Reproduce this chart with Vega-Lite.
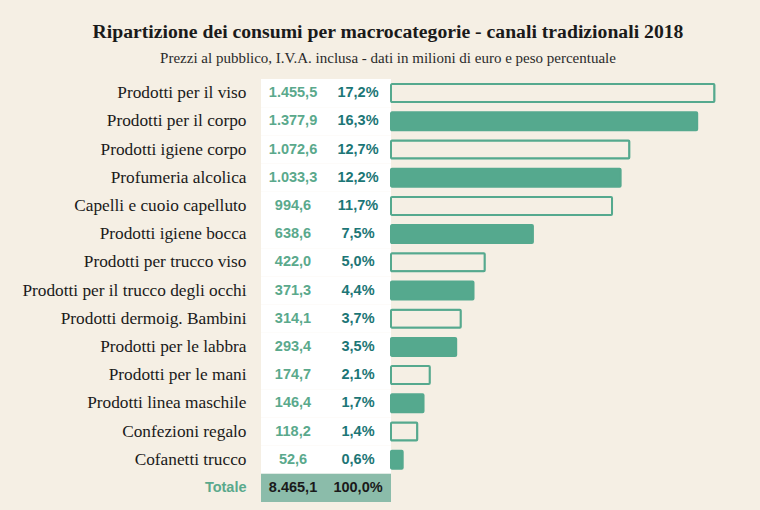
{
  "$schema": "https://vega.github.io/schema/vega-lite/v6.json",
  "width": 470,
  "height": 423,
  "autosize": {"type": "none"},
  "padding": {"left": 261, "top": 79, "right": 29, "bottom": 8},
  "background": "#f5efe4",
  "config": {
    "view": {"stroke": null},
    "locale": {"number": {"decimal": ",", "thousands": ".", "grouping": [3], "currency": ["€", ""]}}
  },
  "title": {
    "text": "Ripartizione dei consumi per macrocategorie - canali tradizionali 2018",
    "subtitle": "Prezzi al pubblico, I.V.A. inclusa - dati in milioni di euro e peso percentuale",
    "anchor": "middle",
    "frame": "group",
    "dx": -108,
    "offset": 13,
    "font": "Liberation Serif",
    "fontSize": 19.7,
    "fontWeight": "bold",
    "color": "#1a1a1a",
    "subtitleFont": "Liberation Serif",
    "subtitleFontSize": 15,
    "subtitleColor": "#2a2a2a",
    "subtitlePadding": 9
  },
  "data": {
    "values": [
      {"cat": "Prodotti per il viso", "value": 1455.5, "pct": 0.172},
      {"cat": "Prodotti per il corpo", "value": 1377.9, "pct": 0.163},
      {"cat": "Prodotti igiene corpo", "value": 1072.6, "pct": 0.127},
      {"cat": "Profumeria alcolica", "value": 1033.3, "pct": 0.122},
      {"cat": "Capelli e cuoio capelluto", "value": 994.6, "pct": 0.117},
      {"cat": "Prodotti igiene bocca", "value": 638.6, "pct": 0.075},
      {"cat": "Prodotti per trucco viso", "value": 422.0, "pct": 0.050},
      {"cat": "Prodotti per il trucco degli occhi", "value": 371.3, "pct": 0.044},
      {"cat": "Prodotti dermoig. Bambini", "value": 314.1, "pct": 0.037},
      {"cat": "Prodotti per le labbra", "value": 293.4, "pct": 0.035},
      {"cat": "Prodotti per le mani", "value": 174.7, "pct": 0.021},
      {"cat": "Prodotti linea maschile", "value": 146.4, "pct": 0.017},
      {"cat": "Confezioni regalo", "value": 118.2, "pct": 0.014},
      {"cat": "Cofanetti trucco", "value": 52.6, "pct": 0.006},
      {"cat": "Totale", "value": 8465.1, "pct": 1.0}
    ]
  },
  "encoding": {
    "y": {
      "field": "cat",
      "type": "nominal",
      "sort": null,
      "scale": {"paddingInner": 0, "paddingOuter": 0},
      "axis": {
        "title": null,
        "domain": false,
        "ticks": false,
        "grid": false,
        "labelPadding": 15,
        "labelLimit": 300,
        "labelFont": {"condition": {"test": "datum.value === 'Totale'", "value": "Liberation Sans"}, "value": "Liberation Serif"},
        "labelFontWeight": {"condition": {"test": "datum.value === 'Totale'", "value": "bold"}, "value": "normal"},
        "labelFontSize": {"condition": {"test": "datum.value === 'Totale'", "value": 14.5}, "value": 17.3},
        "labelColor": {"condition": {"test": "datum.value === 'Totale'", "value": "#5aa98c"}, "value": "#1a1a1a"}
      }
    }
  },
  "layer": [
    {
      "mark": {"type": "rect"},
      "encoding": {
        "x": {"datum": -585, "type": "quantitative", "scale": {"domain": [-585, 1530], "zero": false, "nice": false}, "axis": null},
        "x2": {"datum": 0},
        "fill": {"condition": {"test": "datum.cat === 'Totale'", "value": "#8bbcaa"}, "value": "#ffffff"}
      }
    },
    {
      "transform": [{"filter": "datum.cat !== 'Totale'"}],
      "mark": {"type": "bar", "size": 18, "stroke": "#55a98e", "strokeWidth": 2, "cornerRadius": 1},
      "encoding": {
        "x": {"field": "value", "type": "quantitative"},
        "fill": {
          "condition": {
            "test": "indexof(['Prodotti per il corpo','Profumeria alcolica','Prodotti igiene bocca','Prodotti per il trucco degli occhi','Prodotti per le labbra','Prodotti linea maschile','Cofanetti trucco'], datum.cat) >= 0",
            "value": "#55a98e"
          },
          "value": "#f5efe4"
        }
      }
    },
    {
      "mark": {"type": "text", "font": "Liberation Sans", "fontWeight": "bold", "fontSize": 14.5, "align": "center", "baseline": "middle"},
      "encoding": {
        "x": {"datum": -441, "type": "quantitative"},
        "text": {"field": "value", "type": "quantitative", "format": ",.1f"},
        "color": {"condition": {"test": "datum.cat === 'Totale'", "value": "#1a1a1a"}, "value": "#5aa98c"}
      }
    },
    {
      "mark": {"type": "text", "font": "Liberation Sans", "fontWeight": "bold", "fontSize": 14.5, "align": "center", "baseline": "middle"},
      "encoding": {
        "x": {"datum": -148.5, "type": "quantitative"},
        "text": {"field": "pct", "type": "quantitative", "format": ".1%"},
        "color": {"condition": {"test": "datum.cat === 'Totale'", "value": "#1a1a1a"}, "value": "#1c7676"}
      }
    }
  ]
}
